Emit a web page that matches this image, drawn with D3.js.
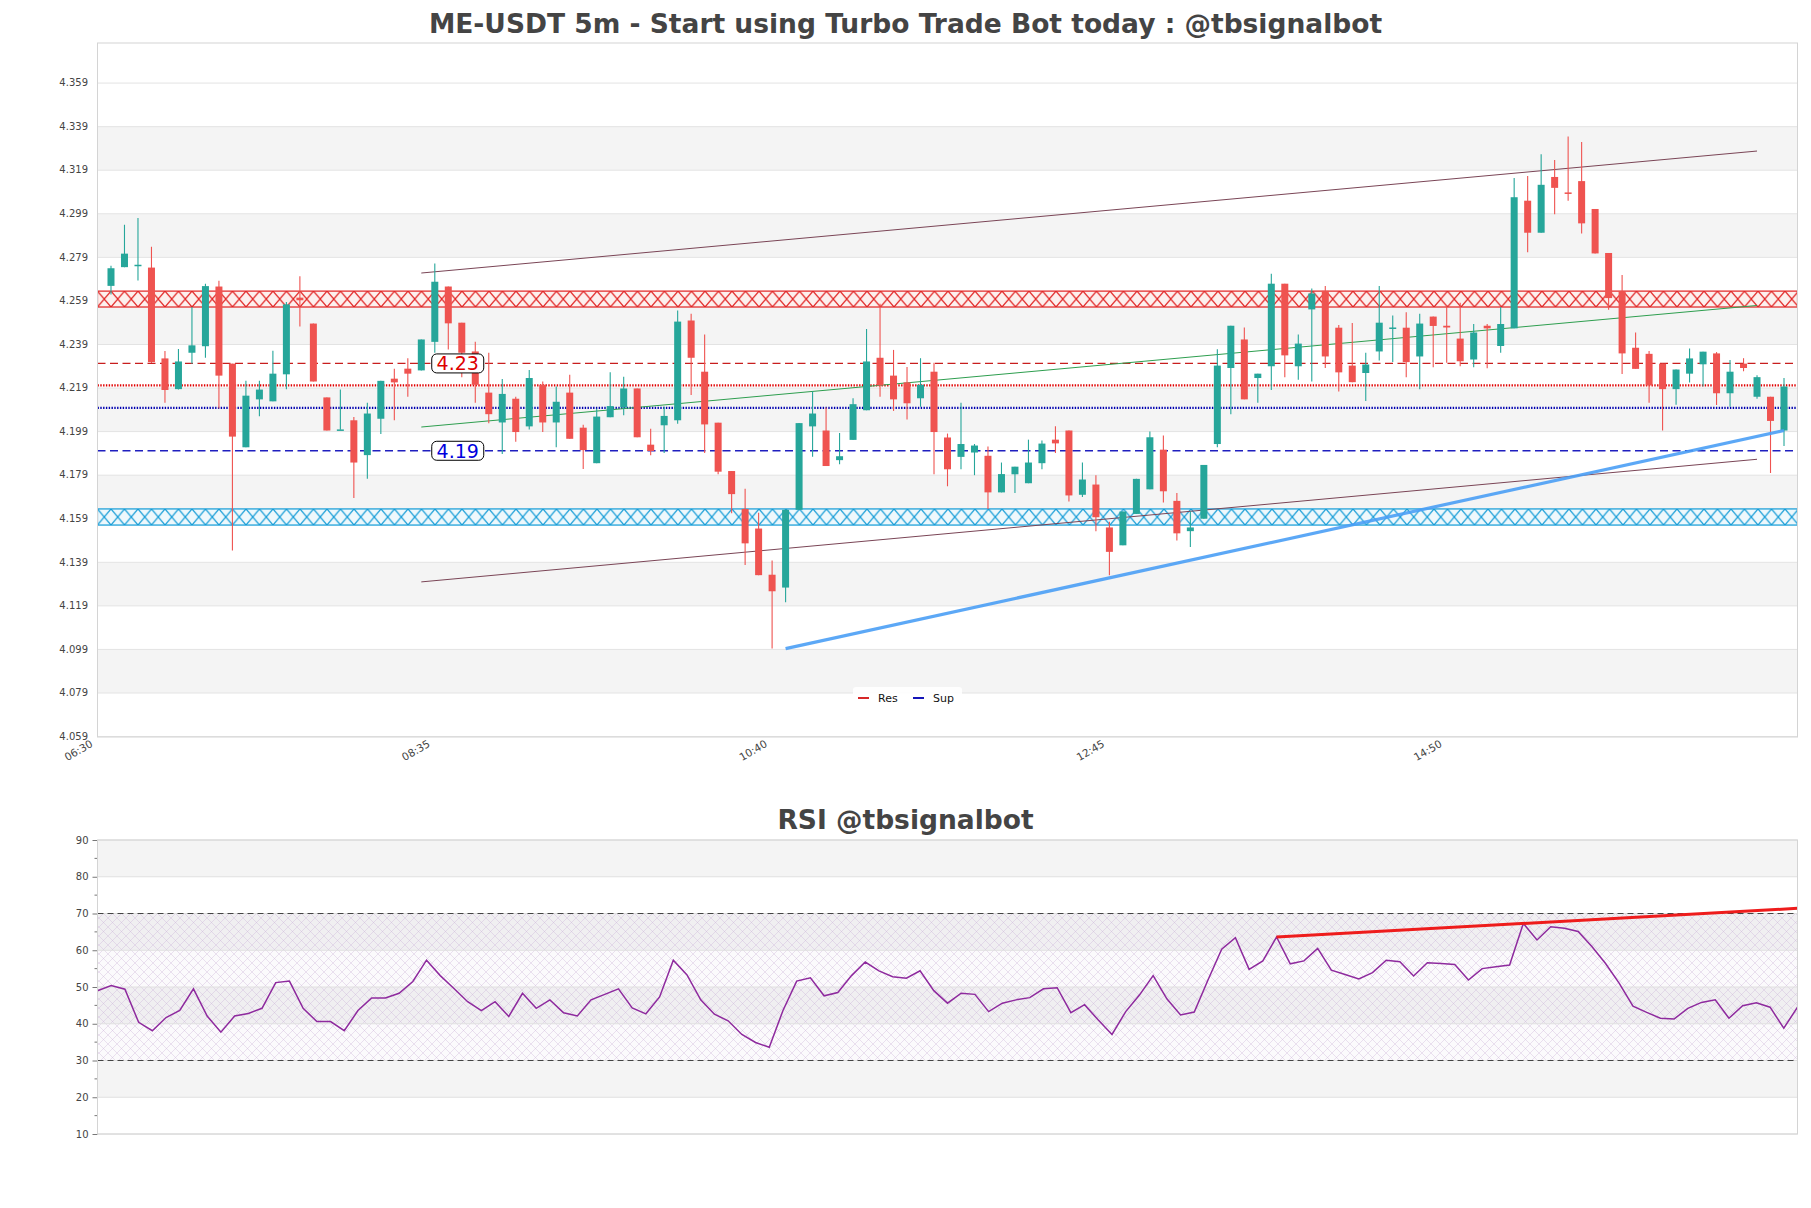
<!DOCTYPE html>
<html>
<head>
<meta charset="utf-8">
<script src="https://cdn.jsdelivr.net/npm/d3@7"></script>
<style>
  body { margin: 0; background: #fff; }
  text { font-family: "DejaVu Sans", sans-serif; }
</style>
</head>
<body>
<svg id="chart" width="1811" height="1208"></svg>
<script>
// ---- data ----
var timeLabels = ["06:30", "08:35", "10:40", "12:45", "14:50"];
var timeTickIdx = [0, 25, 50, 75, 100];

// candles 1..125 (5m bars)
var open = [4.2659,4.2745,4.2752,4.2743,4.2326,4.2185,4.2352,4.2382,4.2656,4.2302,
  4.1918,4.2138,4.2129,4.2253,4.2605,4.2486,4.2147,4.1998,4.2042,4.1882,
  4.2049,4.2233,4.2279,4.2271,4.2402,4.2656,4.2490,4.2358,4.2169,4.2032,
  4.2141,4.2014,4.2205,4.2032,4.2169,4.2008,4.1845,4.2056,4.2101,4.2188,
  4.1930,4.2019,4.2042,4.2500,4.2265,4.2031,4.1809,4.1635,4.1545,4.1333,
  4.1274,4.1631,4.2014,4.1995,4.1859,4.1952,4.2088,4.2329,4.2247,4.2216,
  4.2143,4.2265,4.1963,4.1874,4.1894,4.1879,4.1711,4.1794,4.1753,4.1845,
  4.1953,4.1995,4.1700,4.1747,4.1550,4.1468,4.1612,4.1725,4.1907,4.1672,
  4.1533,4.1590,4.1933,4.2282,4.2413,4.2236,4.2290,4.2669,4.2290,4.2551,
  4.2636,4.2467,4.2293,4.2259,4.2358,4.2463,4.2467,4.2335,4.2518,4.2476,
  4.2417,4.2321,4.2476,4.2383,4.2464,4.3050,4.2903,4.3159,4.3088,4.3140,
  4.3012,4.2810,4.2635,4.2375,4.2347,4.2302,4.2185,4.2256,4.2299,4.2349,
  4.2166,4.2302,4.2150,4.2150,4.1995];
var high = [4.2751,4.2940,4.2971,4.2839,4.2360,4.2369,4.2562,4.2669,4.2683,4.2302,
  4.2223,4.2223,4.2361,4.2585,4.2703,4.2486,4.2147,4.2183,4.2057,4.2123,
  4.2223,4.2279,4.2327,4.2413,4.2762,4.2656,4.2490,4.2402,4.2352,4.2231,
  4.2150,4.2273,4.2220,4.2197,4.2251,4.2022,4.2095,4.2262,4.2242,4.2188,
  4.2003,4.2104,4.2546,4.2531,4.2436,4.2031,4.1809,4.1728,4.1617,4.1398,
  4.1631,4.2029,4.2174,4.2101,4.1984,4.2143,4.2461,4.2577,4.2365,4.2287,
  4.2327,4.2306,4.1981,4.2123,4.1933,4.1922,4.1848,4.1829,4.1953,4.1949,
  4.2015,4.1995,4.1848,4.1790,4.1576,4.1623,4.1773,4.1991,4.1972,4.1708,
  4.1623,4.1837,4.2368,4.2476,4.2468,4.2256,4.2715,4.2669,4.2436,4.2647,
  4.2658,4.2479,4.2489,4.2352,4.2658,4.2523,4.2538,4.2531,4.2518,4.2569,
  4.2582,4.2484,4.2484,4.2562,4.3154,4.3164,4.3263,4.3237,4.3345,4.3319,
  4.3012,4.2810,4.2709,4.2445,4.2360,4.2302,4.2275,4.2371,4.2357,4.2355,
  4.2319,4.2327,4.2249,4.2150,4.2236];
var low = [4.2619,4.2745,4.2684,4.2305,4.2123,4.2183,4.2302,4.2329,4.2096,4.1444,
  4.1918,4.2060,4.2129,4.2185,4.2472,4.2220,4.1995,4.1998,4.1685,4.1774,
  4.1979,4.2042,4.2150,4.2271,4.2352,4.2367,4.2239,4.2123,4.2028,4.1887,
  4.1944,4.2000,4.1988,4.1918,4.1957,4.1818,4.1845,4.2056,4.2065,4.1964,
  4.1882,4.1892,4.2026,4.2158,4.1892,4.1794,4.1615,4.1378,4.1331,4.0994,
  4.1207,4.1631,4.1874,4.1832,4.1840,4.1952,4.2088,4.2150,4.2085,4.2046,
  4.2104,4.1794,4.1739,4.1817,4.1790,4.1635,4.1711,4.1708,4.1753,4.1817,
  4.1892,4.1669,4.1690,4.1533,4.1331,4.1468,4.1612,4.1725,4.1665,4.1490,
  4.1460,4.1590,4.1918,4.2070,4.2138,4.2123,4.2181,4.2239,4.2228,4.2220,
  4.2282,4.2174,4.2217,4.2130,4.2316,4.2309,4.2239,4.2185,4.2285,4.2306,
  4.2290,4.2285,4.2281,4.2352,4.2464,4.2813,4.2903,4.2988,4.3050,4.2900,
  4.2808,4.2549,4.2254,4.2278,4.2123,4.1995,4.2113,4.2216,4.2197,4.2112,
  4.2104,4.2267,4.2141,4.1800,4.1924];
var close = [4.2740,4.2807,4.2756,4.2309,4.2181,4.2312,4.2386,4.2658,4.2247,4.1967,
  4.2155,4.2183,4.2256,4.2574,4.2593,4.2220,4.1995,4.2000,4.1848,4.2073,
  4.2223,4.2216,4.2256,4.2413,4.2678,4.2487,4.2352,4.2205,4.2070,4.2163,
  4.1988,4.2236,4.2032,4.2127,4.1957,4.1905,4.2059,4.2107,4.2188,4.1964,
  4.1901,4.2062,4.2495,4.2329,4.2023,4.1806,4.1703,4.1477,4.1331,4.1257,
  4.1631,4.2029,4.2073,4.1832,4.1877,4.2116,4.2312,4.2202,4.2138,4.2120,
  4.2205,4.1988,4.1817,4.1933,4.1926,4.1711,4.1795,4.1829,4.1848,4.1935,
  4.1936,4.1697,4.1770,4.1597,4.1438,4.1623,4.1773,4.1964,4.1716,4.1523,
  4.1550,4.1837,4.2293,4.2476,4.2138,4.2256,4.2669,4.2340,4.2394,4.2624,
  4.2335,4.2262,4.2217,4.2298,4.2490,4.2468,4.2309,4.2486,4.2475,4.2468,
  4.2313,4.2445,4.2464,4.2484,4.3066,4.2903,4.3123,4.3109,4.3081,4.2946,
  4.2808,4.2603,4.2349,4.2278,4.2202,4.2185,4.2275,4.2326,4.2357,4.2166,
  4.2265,4.2282,4.2240,4.2039,4.2197];

var rsi = [49.0,50.4,49.4,40.4,38.1,41.7,43.6,49.5,42.1,37.7,
  42.1,42.8,44.2,51.2,51.6,44.2,40.6,40.6,38.1,43.6,
  47.0,47.0,48.3,51.5,57.3,53.1,49.6,46.0,43.6,46.0,
  42.0,48.3,44.2,46.5,43.0,42.1,46.5,48.0,49.5,44.3,
  42.7,47.3,57.3,53.3,46.5,42.6,40.8,37.1,34.9,33.6,
  43.6,51.6,52.5,47.6,48.5,53.1,56.8,54.4,52.8,52.4,
  54.4,49.0,45.6,48.3,48.0,43.3,45.6,46.5,47.1,49.5,
  49.8,43.0,45.2,41.0,37.1,43.3,47.8,53.1,46.8,42.4,
  43.2,51.9,60.3,63.4,54.8,57.1,63.6,56.3,57.1,60.5,
  54.6,53.4,52.2,53.9,57.3,56.9,53.0,56.6,56.4,56.1,
  51.9,55.0,55.5,56.0,67.3,62.8,66.4,66.0,65.1,61.0,
  56.4,51.0,44.8,43.1,41.5,41.3,44.2,45.8,46.5,41.5,
  44.9,45.7,44.5,38.8,44.5];

var priceTicks = [4.059,4.079,4.099,4.119,4.139,4.159,4.179,4.199,4.219,4.239,4.259,4.279,4.299,4.319,4.339,4.359];
var rsiTicks = [10,20,30,40,50,60,70,80,90];

var resZone = [4.2562, 4.2635];
var supZone = [4.1561, 4.1635];
var resLevel = 4.2303, supLevel = 4.1902;     // dashed, labelled
var resDotLevel = 4.2202, supDotLevel = 4.2099; // dotted
var labelIdx = 26.7;

// trend lines: [index, price]
var channelTop = [[24, 4.2718], [123, 4.3278]];
var channelMid = [[24, 4.2011], [123, 4.2569]];
var channelBot = [[24, 4.1300], [123, 4.1863]];
var supTrend = [[51, 4.0994], [125, 4.1995]];
var rsiTrend = [[86, 63.6], [124, 71.4]];

// ---- layout ----
var svg = d3.select("#chart");
var main = {left: 97.5, right: 1797.5, top: 43, bottom: 737};
var sub = {left: 97.5, right: 1797.5, top: 840, bottom: 1134};

var x = d3.scaleLinear().domain([0, 126]).range([main.left, main.right]);
var y = d3.scaleLinear().domain([4.0588, 4.3774]).range([main.bottom, main.top]);
var xr = d3.scaleLinear().domain([0, rsi.length - 1]).range([sub.left, sub.right]);
var yr = d3.scaleLinear().domain([10, 90]).range([sub.bottom, sub.top]);

var candles = open.map(function(o, k) {
  return {i: k + 1, o: o, h: high[k], l: low[k], c: close[k]};
});

var defs = svg.append("defs");
defs.append("clipPath").attr("id", "clipMain").append("rect")
    .attr("x", main.left).attr("y", main.top)
    .attr("width", main.right - main.left).attr("height", main.bottom - main.top);
defs.append("clipPath").attr("id", "clipSub").append("rect")
    .attr("x", sub.left).attr("y", sub.top)
    .attr("width", sub.right - sub.left).attr("height", sub.bottom - sub.top);

function zonePattern(id, zone, color, tint) {
  var h = y(zone[0]) - y(zone[1]), w = 13.5;
  var p = defs.append("pattern").attr("id", id)
      .attr("patternUnits", "userSpaceOnUse")
      .attr("width", w).attr("height", h)
      .attr("x", main.left).attr("y", y(zone[1]));
  p.append("rect").attr("width", w).attr("height", h).attr("fill", tint);
  p.append("path").attr("d", "M0,0L" + w + "," + h + "M" + w + ",0L0," + h)
      .attr("stroke", color).attr("stroke-width", 1.2).attr("fill", "none");
}
zonePattern("hatchRes", resZone, "#e02020", "#fdf0ee");
zonePattern("hatchSup", supZone, "#0f9ad6", "#eef8fc");

var rp = defs.append("pattern").attr("id", "hatchRsi")
    .attr("patternUnits", "userSpaceOnUse").attr("width", 9).attr("height", 9);
rp.append("path").attr("d", "M0,0L9,9M9,0L0,9")
    .attr("stroke", "#c8b0d8").attr("stroke-width", 0.5).attr("stroke-opacity", 0.7);

// ---- titles ----
svg.append("text").attr("x", 905.5).attr("y", 33)
    .attr("text-anchor", "middle").attr("font-size", 26.5).attr("font-weight", "bold")
    .attr("fill", "#444").text("ME-USDT 5m - Start using Turbo Trade Bot today : @tbsignalbot");
svg.append("text").attr("x", 905.5).attr("y", 829)
    .attr("text-anchor", "middle").attr("font-size", 26.5).attr("font-weight", "bold")
    .attr("fill", "#444").text("RSI @tbsignalbot");

// ---- main panel ----
var g = svg.append("g");

g.selectAll(".band").data(d3.range(1, priceTicks.length - 1, 2)).enter().append("rect")
    .attr("x", main.left).attr("width", main.right - main.left)
    .attr("y", function(k) { return y(priceTicks[k + 1]); })
    .attr("height", function(k) { return y(priceTicks[k]) - y(priceTicks[k + 1]); })
    .attr("fill", "#f4f4f4");

g.selectAll(".grid").data(priceTicks).enter().append("line")
    .attr("x1", main.left).attr("x2", main.right)
    .attr("y1", function(d) { return y(d); }).attr("y2", function(d) { return y(d); })
    .attr("stroke", "#e3e3e3").attr("stroke-width", 1);

g.selectAll(".ylab").data(priceTicks).enter().append("text")
    .attr("x", 88).attr("y", function(d) { return y(d); }).attr("dy", "0.32em")
    .attr("text-anchor", "end").attr("font-size", 10).attr("fill", "#444")
    .text(function(d) { return d3.format(".3f")(d); });

g.selectAll(".xlab").data(timeTickIdx).enter().append("text")
    .attr("transform", function(d) { return "translate(" + (x(d) - 4) + "," + (main.bottom + 9) + ") rotate(-30)"; })
    .attr("text-anchor", "end").attr("font-size", 10.5).attr("fill", "#444")
    .text(function(d, k) { return timeLabels[k]; });

var plot = g.append("g").attr("clip-path", "url(#clipMain)");

// zones
[[resZone, "hatchRes", "#e02020"], [supZone, "hatchSup", "#0f9ad6"]].forEach(function(z) {
  plot.append("rect").attr("x", main.left).attr("width", main.right - main.left)
      .attr("y", y(z[0][1])).attr("height", y(z[0][0]) - y(z[0][1]))
      .attr("fill", "url(#" + z[1] + ")").attr("stroke", z[2]).attr("stroke-width", 1.2);
});

function hline(v, color, width, dash) {
  plot.append("line").attr("x1", main.left).attr("x2", main.right)
      .attr("y1", y(v)).attr("y2", y(v))
      .attr("stroke", color).attr("stroke-width", width).attr("stroke-dasharray", dash);
}
hline(resLevel, "#c81e1e", 1.3, "8,4.5");
hline(supLevel, "#1f1fbf", 1.3, "8,4.5");
hline(resDotLevel, "#e00000", 2.2, "1.4,1.4");
hline(supDotLevel, "#0000b0", 2.2, "1.4,1.4");

var tl = d3.line().x(function(d) { return x(d[0]); }).y(function(d) { return y(d[1]); });
plot.append("path").attr("d", tl(channelTop)).attr("stroke", "#7a4556").attr("stroke-width", 1).attr("fill", "none");
plot.append("path").attr("d", tl(channelBot)).attr("stroke", "#7a4556").attr("stroke-width", 1).attr("fill", "none");
plot.append("path").attr("d", tl(channelMid)).attr("stroke", "#2e9e4f").attr("stroke-width", 1).attr("fill", "none");

// candles
var bw = 7;
var cg = plot.selectAll(".candle").data(candles).enter().append("g");
cg.append("line")
    .attr("x1", function(d) { return x(d.i); }).attr("x2", function(d) { return x(d.i); })
    .attr("y1", function(d) { return y(d.h); }).attr("y2", function(d) { return y(d.l); })
    .attr("stroke", function(d) { return d.c >= d.o ? "#26a69a" : "#ef5350"; })
    .attr("stroke-width", 1.1);
cg.append("rect")
    .attr("x", function(d) { return x(d.i) - bw / 2; }).attr("width", bw)
    .attr("y", function(d) { return y(Math.max(d.o, d.c)); })
    .attr("height", function(d) { return Math.max(1.5, Math.abs(y(d.o) - y(d.c))); })
    .attr("fill", function(d) { return d.c >= d.o ? "#26a69a" : "#ef5350"; });

plot.append("path").attr("d", tl(supTrend)).attr("stroke", "#4a9ff5").attr("stroke-width", 3.2)
    .attr("stroke-opacity", 0.9).attr("fill", "none");

// level labels
[[resLevel, "#dd0000"], [supLevel, "#0000dd"]].forEach(function(l) {
  var lg = plot.append("g").attr("transform", "translate(" + x(labelIdx) + "," + y(l[0]) + ")");
  lg.append("rect").attr("x", -26).attr("y", -9.5).attr("width", 52).attr("height", 19)
      .attr("rx", 5).attr("fill", "#fff").attr("stroke", "#000").attr("stroke-width", 1);
  lg.append("text").attr("text-anchor", "middle").attr("dy", "0.36em")
      .attr("font-size", 19).attr("fill", l[1]).text(d3.format(".2f")(l[0]));
});

// frame
g.append("rect").attr("x", main.left).attr("y", main.top)
    .attr("width", main.right - main.left).attr("height", main.bottom - main.top)
    .attr("fill", "none").attr("stroke", "#d4d4d4");

// legend
var lgd = g.append("g").attr("transform", "translate(853,687)");
lgd.append("rect").attr("width", 109).attr("height", 20).attr("rx", 3)
    .attr("fill", "#fff").attr("fill-opacity", 0.9);
[["Res", "#d62728", 5], ["Sup", "#1515b8", 60]].forEach(function(e) {
  lgd.append("line").attr("x1", e[2]).attr("x2", e[2] + 11).attr("y1", 11).attr("y2", 11)
      .attr("stroke", e[1]).attr("stroke-width", 2);
  lgd.append("text").attr("x", e[2] + 20).attr("y", 15).attr("font-size", 11)
      .attr("fill", "#111").text(e[0]);
});

// ---- RSI panel ----
var r = svg.append("g");
r.selectAll(".band").data(d3.range(1, rsiTicks.length - 1, 2)).enter().append("rect")
    .attr("x", sub.left).attr("width", sub.right - sub.left)
    .attr("y", function(k) { return yr(rsiTicks[k + 1]); })
    .attr("height", function(k) { return yr(rsiTicks[k]) - yr(rsiTicks[k + 1]); })
    .attr("fill", "#f4f4f4");
r.append("rect").attr("x", sub.left).attr("width", sub.right - sub.left)
    .attr("y", yr(70)).attr("height", yr(30) - yr(70))
    .attr("fill", "url(#hatchRsi)");
r.append("rect").attr("x", sub.left).attr("width", sub.right - sub.left)
    .attr("y", yr(70)).attr("height", yr(30) - yr(70))
    .attr("fill", "#b89ac8").attr("fill-opacity", 0.05);
r.selectAll(".grid").data(rsiTicks).enter().append("line")
    .attr("x1", sub.left).attr("x2", sub.right)
    .attr("y1", function(d) { return yr(d); }).attr("y2", function(d) { return yr(d); })
    .attr("stroke", "#e0e0e0");

var yAxisR = d3.axisLeft(yr).tickValues(rsiTicks).tickSize(5).tickPadding(4);
var ax = r.append("g").attr("transform", "translate(" + sub.left + ",0)").call(yAxisR);
ax.select(".domain").remove();
ax.selectAll("line").attr("stroke", "#777");
ax.selectAll("text").attr("font-size", 10).attr("fill", "#444").attr("font-family", "DejaVu Sans");
r.selectAll(".minor").data(d3.range(15, 90, 10)).enter().append("line")
    .attr("x1", sub.left - 3).attr("x2", sub.left)
    .attr("y1", function(d) { return yr(d); }).attr("y2", function(d) { return yr(d); })
    .attr("stroke", "#777");

[70, 30].forEach(function(v) {
  r.append("line").attr("x1", sub.left).attr("x2", sub.right)
      .attr("y1", yr(v)).attr("y2", yr(v))
      .attr("stroke", "#444").attr("stroke-width", 1.2).attr("stroke-dasharray", "6,4");
});

var rp2 = r.append("g").attr("clip-path", "url(#clipSub)");
rp2.append("path").datum(rsi)
    .attr("d", d3.line().x(function(d, k) { return xr(k); }).y(function(d) { return yr(d); }))
    .attr("fill", "none").attr("stroke", "#8e2a9e").attr("stroke-width", 1.5);
rp2.append("path")
    .attr("d", d3.line().x(function(d) { return xr(d[0]); }).y(function(d) { return yr(d[1]); })(rsiTrend))
    .attr("fill", "none").attr("stroke", "#ee1c1c").attr("stroke-width", 3);

r.append("rect").attr("x", sub.left).attr("y", sub.top)
    .attr("width", sub.right - sub.left).attr("height", sub.bottom - sub.top)
    .attr("fill", "none").attr("stroke", "#d4d4d4");
</script>
</body>
</html>
